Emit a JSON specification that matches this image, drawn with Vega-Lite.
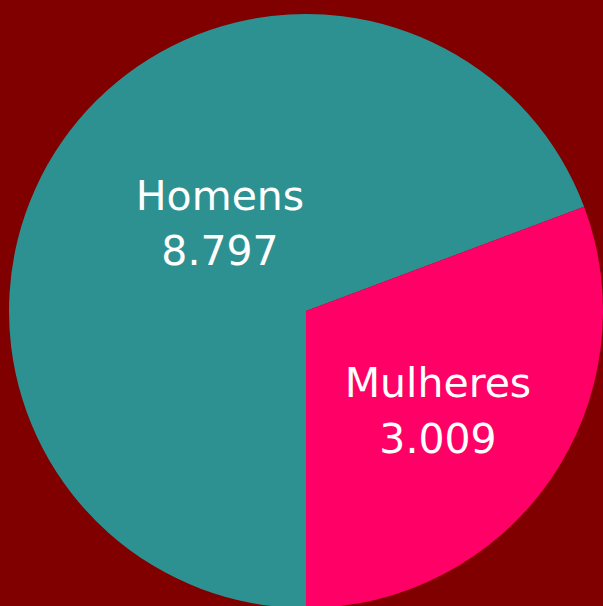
{
  "$schema": "https://vega.github.io/schema/vega-lite/v6.json",
  "width": 603,
  "height": 606,
  "autosize": {"type": "fit", "contains": "padding"},
  "padding": {"left": 9, "top": 16, "right": 0, "bottom": 0},
  "background": "#800000",
  "config": {"view": {"stroke": null}},
  "data": {
    "values": [
      {"gender": "Homens", "label": "Homens\n8.797", "value": 8797, "share": 69.29},
      {"gender": "Mulheres", "label": "Mulheres\n3.009", "value": 3009, "share": 30.71}
    ]
  },
  "encoding": {
    "theta": {"field": "share", "type": "quantitative", "stack": true, "scale": {"range": [3.14159, 9.42478]}},
    "color": {"field": "gender", "type": "nominal", "legend": null, "scale": {"domain": ["Homens", "Mulheres"], "range": ["#2E9191", "#FF0066"]}}
  },
  "layer": [
    {"mark": {"type": "arc", "outerRadius": 297}},
    {
      "mark": {"type": "text", "radius": 120.7, "thetaOffset": 0.1717, "dy": -28, "font": "DejaVu Sans", "fontSize": 41, "lineBreak": "\n", "lineHeight": 55, "baseline": "middle", "align": "center"},
      "encoding": {
        "text": {"condition": {"test": "datum.gender === 'Homens'", "field": "label"}, "value": ""},
        "color": {"value": "#ffffff"}
      }
    },
    {
      "mark": {"type": "text", "radius": 166.5, "thetaOffset": 0.0496, "dy": -28, "font": "DejaVu Sans", "fontSize": 41, "lineBreak": "\n", "lineHeight": 56, "baseline": "middle", "align": "center"},
      "encoding": {
        "text": {"condition": {"test": "datum.gender === 'Mulheres'", "field": "label"}, "value": ""},
        "color": {"value": "#ffffff"}
      }
    }
  ]
}
